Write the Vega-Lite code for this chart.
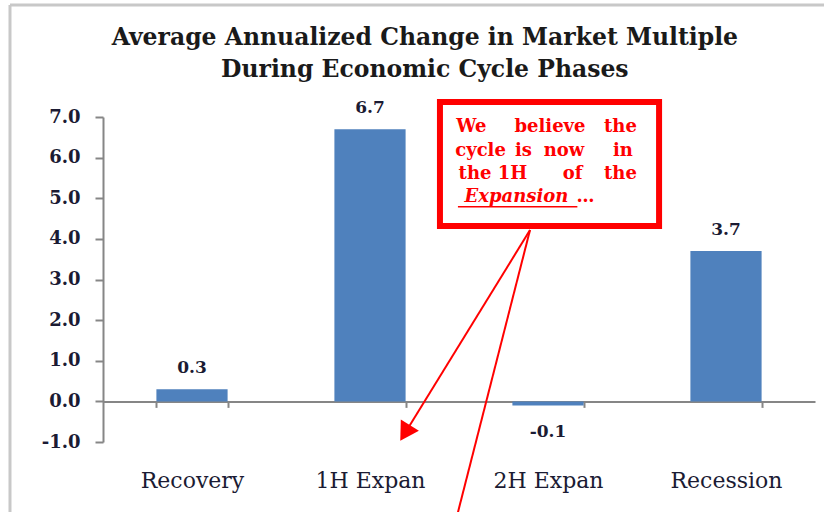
{
  "$schema": "https://vega.github.io/schema/vega-lite/v6.json",
  "width": 712,
  "height": 325,
  "autosize": "none",
  "padding": {"left": 103, "top": 117, "right": 9, "bottom": 70},
  "background": "white",
  "title": {
    "text": ["Average Annualized Change in Market Multiple", "During Economic Cycle Phases"],
    "font": "DejaVu Serif",
    "fontSize": 23.5,
    "fontWeight": "bold",
    "color": "#1a1a1a",
    "lineHeight": 32,
    "anchor": "middle",
    "frame": "bounds",
    "offset": -78,
    "dx": 7
  },
  "config": {"view": {"stroke": null}},
  "datasets": {
    "bars": [
      {"phase": "Recovery", "value": 0.3},
      {"phase": "1H Expan", "value": 6.7},
      {"phase": "2H Expan", "value": -0.1},
      {"phase": "Recession", "value": 3.7}
    ],
    "box": [{"x1": 1.893, "x2": 3.124, "y1": 7.37, "y2": 4.32}],
    "words": [
      {"w": "We", "ax": 2.07, "ay": 6.755},
      {"w": "believe", "ax": 2.511, "ay": 6.755},
      {"w": "the", "ax": 2.907, "ay": 6.755},
      {"w": "cycle", "ax": 2.121, "ay": 6.163},
      {"w": "is", "ax": 2.362, "ay": 6.163},
      {"w": "now", "ax": 2.59, "ay": 6.163},
      {"w": "in", "ax": 2.921, "ay": 6.163},
      {"w": "the", "ax": 2.09, "ay": 5.597},
      {"w": "1H", "ax": 2.3, "ay": 5.597},
      {"w": "of", "ax": 2.638, "ay": 5.597},
      {"w": "the", "ax": 2.907, "ay": 5.597},
      {"w": "…", "ax": 2.71, "ay": 5.031}
    ],
    "italic": [{"w": "Expansion", "ax": 2.323, "ay": 5.031}],
    "underline": [{"x1": 1.994, "x2": 2.665, "y1": 4.79, "y2": 4.79}],
    "lines": [
      {"x1": 2.399, "x2": 1.697, "y1": 4.217, "y2": -0.778},
      {"x1": 2.399, "x2": 1.983, "y1": 4.217, "y2": -2.92}
    ],
    "head": [{"ax": 1.697, "ay": -0.778}],
    "frame": [
      {"x1": -0.5225, "x2": -0.5225, "y1": 9.757, "y2": -2.99},
      {"x1": -0.5225, "x2": 4.06, "y1": 9.757, "y2": 9.757}
    ]
  },
  "layer": [
    {
      "data": {"name": "bars"},
      "transform": [{"calculate": "replace(format(datum.value, '.1f'), '\u2212', '-')", "as": "lab"}],
      "encoding": {
        "x": {
          "field": "phase", "type": "nominal", "sort": null,
          "scale": {"paddingInner": 0.6, "paddingOuter": 0.3},
          "axis": {
            "title": null, "orient": "bottom", "offset": -40.625,
            "domainColor": "#868686", "domainWidth": 2,
            "tickColor": "#868686", "tickWidth": 2, "tickSize": 6, "tickBand": "extent",
            "labelFont": "DejaVu Serif", "labelFontSize": 22, "labelColor": "#1b1b33",
            "labelPadding": 63, "labelAngle": 0
          }
        },
        "y": {
          "field": "value", "type": "quantitative",
          "scale": {"domain": [-1, 7], "nice": false, "zero": false},
          "axis": {
            "title": null, "grid": false, "values": [-1, 0, 1, 2, 3, 4, 5, 6, 7], "format": ".1f",
            "labelExpr": "replace(datum.label, '\u2212', '-')",
            "domainColor": "#868686", "domainWidth": 2,
            "tickColor": "#868686", "tickWidth": 2, "tickSize": 8,
            "labelFont": "DejaVu Serif", "labelFontSize": 18, "labelFontWeight": "bold",
            "labelColor": "#1b1b33", "labelPadding": 15
          }
        }
      },
      "layer": [
        {"mark": {"type": "bar", "color": "#4F81BD"}},
        {
          "transform": [{"filter": "datum.value >= 0"}],
          "mark": {"type": "text", "font": "DejaVu Serif", "fontSize": 17, "fontWeight": "bold", "color": "#1b1b33", "baseline": "middle", "dy": -21},
          "encoding": {"text": {"field": "lab"}}
        },
        {
          "transform": [{"filter": "datum.value < 0"}],
          "mark": {"type": "text", "font": "DejaVu Serif", "fontSize": 17, "fontWeight": "bold", "color": "#1b1b33", "baseline": "middle", "dy": 27},
          "encoding": {"text": {"field": "lab"}}
        }
      ]
    },
    {
      "layer": [
        {
          "data": {"name": "frame"},
          "mark": {"type": "rule", "color": "#c8c8c8", "strokeWidth": 3},
          "encoding": {
            "x": {"field": "x1", "type": "quantitative", "scale": {"domain": [0, 4], "nice": false, "zero": false}, "axis": null},
            "x2": {"field": "x2"},
            "y": {"field": "y1", "type": "quantitative", "scale": {"domain": [-1, 7], "nice": false, "zero": false}},
            "y2": {"field": "y2"}
          }
        },
        {
          "data": {"name": "lines"},
          "mark": {"type": "rule", "color": "#ff0000", "strokeWidth": 2},
          "encoding": {
            "x": {"field": "x1", "type": "quantitative", "scale": {"domain": [0, 4], "nice": false, "zero": false}, "axis": null},
            "x2": {"field": "x2"},
            "y": {"field": "y1", "type": "quantitative", "scale": {"domain": [-1, 7], "nice": false, "zero": false}},
            "y2": {"field": "y2"}
          }
        },
        {
          "data": {"name": "head"},
          "mark": {"type": "point", "shape": "triangle-up", "angle": 211.5, "size": 450, "filled": true, "color": "#ff0000", "opacity": 1},
          "encoding": {
            "x": {"field": "ax", "type": "quantitative", "scale": {"domain": [0, 4], "nice": false, "zero": false}, "axis": null},
            "y": {"field": "ay", "type": "quantitative", "scale": {"domain": [-1, 7], "nice": false, "zero": false}}
          }
        },
        {
          "data": {"name": "box"},
          "mark": {"type": "rect", "fill": "white", "stroke": "#ff0000", "strokeWidth": 6},
          "encoding": {
            "x": {"field": "x1", "type": "quantitative", "scale": {"domain": [0, 4], "nice": false, "zero": false}, "axis": null},
            "x2": {"field": "x2"},
            "y": {"field": "y1", "type": "quantitative", "scale": {"domain": [-1, 7], "nice": false, "zero": false}},
            "y2": {"field": "y2"}
          }
        },
        {
          "data": {"name": "underline"},
          "mark": {"type": "rule", "color": "#ff0000", "strokeWidth": 1.5},
          "encoding": {
            "x": {"field": "x1", "type": "quantitative", "scale": {"domain": [0, 4], "nice": false, "zero": false}, "axis": null},
            "x2": {"field": "x2"},
            "y": {"field": "y1", "type": "quantitative", "scale": {"domain": [-1, 7], "nice": false, "zero": false}},
            "y2": {"field": "y2"}
          }
        },
        {
          "data": {"name": "words"},
          "mark": {"type": "text", "font": "DejaVu Serif", "fontSize": 18, "fontWeight": "bold", "color": "#ff0000", "baseline": "middle", "align": "center"},
          "encoding": {
            "x": {"field": "ax", "type": "quantitative", "scale": {"domain": [0, 4], "nice": false, "zero": false}, "axis": null},
            "y": {"field": "ay", "type": "quantitative", "scale": {"domain": [-1, 7], "nice": false, "zero": false}},
            "text": {"field": "w"}
          }
        },
        {
          "data": {"name": "italic"},
          "mark": {"type": "text", "font": "DejaVu Serif", "fontSize": 18, "fontWeight": "bold", "fontStyle": "italic", "color": "#ff0000", "baseline": "middle", "align": "center"},
          "encoding": {
            "x": {"field": "ax", "type": "quantitative", "scale": {"domain": [0, 4], "nice": false, "zero": false}, "axis": null},
            "y": {"field": "ay", "type": "quantitative", "scale": {"domain": [-1, 7], "nice": false, "zero": false}},
            "text": {"field": "w"}
          }
        }
      ]
    }
  ],
  "resolve": {"scale": {"x": "independent"}, "axis": {"x": "independent"}}
}
